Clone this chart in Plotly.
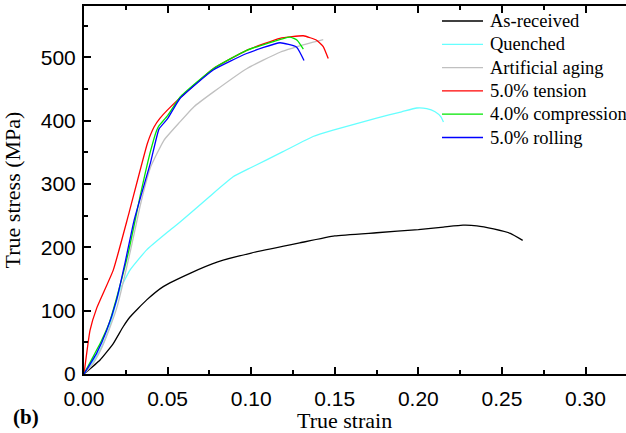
import plotly.graph_objects as go

# ---- data ----
series_names = ["As-received", "Quenched", "Artificial aging",
                "5.0% tension", "4.0% compression", "5.0% rolling"]

as_received_strain = [0, 0.0096, 0.0175, 0.0235, 0.0275, 0.0375, 0.0474, 0.0634, 0.08, 0.10,
                      0.129, 0.15, 0.175, 0.20, 0.215, 0.2267, 0.235, 0.245, 0.255, 0.2624]
as_received_stress = [0, 22, 48, 75, 90, 117, 138, 159, 177, 191,
                      207, 218, 223, 228, 232, 235, 234, 229, 222, 211]

quenched_strain = [0, 0.005, 0.01, 0.015, 0.0215, 0.0275, 0.0375, 0.05, 0.058, 0.075, 0.089,
                   0.10, 0.119, 0.137, 0.149, 0.175, 0.19, 0.199, 0.205, 0.21, 0.2135, 0.215]
quenched_stress = [0, 18, 40, 72, 133, 164, 196, 224, 241, 280, 311,
                   326, 351, 375, 385, 404, 414, 420, 419, 414, 406, 398]

aging_strain = [0, 0.005, 0.01, 0.015, 0.02, 0.0279, 0.034, 0.0399, 0.0478, 0.0574, 0.0658,
                0.0773, 0.0973, 0.1172, 0.1371, 0.1431]
aging_stress = [0, 15, 38, 70, 108, 196, 270, 327, 369, 398, 422,
                445, 482, 508, 524, 528]

tension_strain = [0, 0.0036, 0.0076, 0.0175, 0.0265, 0.0379, 0.0419, 0.0455, 0.0558, 0.0773,
                  0.0973, 0.1172, 0.1312, 0.1391, 0.1431, 0.1461]
tension_stress = [0, 69, 104, 164, 250, 364, 390, 404, 432, 482,
                  511, 530, 534, 527, 517, 498]

compression_strain = [0, 0.005, 0.01, 0.015, 0.02, 0.0269, 0.0335, 0.0399, 0.0435, 0.0449, 0.05,
                      0.0574, 0.0773, 0.0973, 0.1232, 0.1275, 0.1312]
compression_stress = [0, 25, 50, 80, 125, 196, 280, 353, 385, 392, 408,
                      437, 482, 511, 532, 527, 513]

rolling_strain = [0, 0.0076, 0.0136, 0.0195, 0.0245, 0.030, 0.0399, 0.0449, 0.05,
                  0.0574, 0.0773, 0.0973, 0.1172, 0.1272, 0.1316]
rolling_stress = [0, 33, 69, 117, 175, 243, 335, 387, 403,
                  435, 480, 506, 523, 516, 495]

x_tick_vals = [0.00, 0.05, 0.10, 0.15, 0.20, 0.25, 0.30]
x_tick_text = ["0.00", "0.05", "0.10", "0.15", "0.20", "0.25", "0.30"]
y_tick_vals = [0, 100, 200, 300, 400, 500]

colors = ["#000000", "#66ffff", "#c0c0c0", "#ff0000", "#00e600", "#0000ff"]
xs = [as_received_strain, quenched_strain, aging_strain, tension_strain,
      compression_strain, rolling_strain]
ys = [as_received_stress, quenched_stress, aging_stress, tension_stress,
      compression_stress, rolling_stress]

W, H = 626, 433
ML, MR, MT, MB = 84, 0, 6, 59
PW, PH = W - ML - MR, H - MT - MB


def px_to_paper(px, py):
    return (px - ML) / PW, (H - MB - py) / PH


SANS = "Liberation Sans, Arial, sans-serif"
SERIF = "Liberation Serif, Times New Roman, serif"

fig = go.Figure()
for name, x, y, c in zip(series_names, xs, ys, colors):
    fig.add_trace(go.Scatter(x=x, y=y, mode="lines", name=name, showlegend=False,
                             line=dict(color=c, width=1.3, shape="spline", smoothing=0.4)))

# legend drawn as line samples + text, positioned in pixel space
shapes = []
annotations = []
row_y0, row_step = 21, 23.3
for i, (name, c) in enumerate(zip(series_names, colors)):
    yy = row_y0 + i * row_step
    x0, y0 = px_to_paper(442, yy)
    x1, _ = px_to_paper(483, yy)
    shapes.append(dict(type="line", xref="paper", yref="paper", x0=x0, x1=x1, y0=y0, y1=y0,
                       line=dict(color=c, width=1.3)))
    tx, _ = px_to_paper(488, yy)
    annotations.append(dict(text=name, xref="paper", yref="paper", x=tx, y=y0,
                            xanchor="left", yanchor="middle", showarrow=False,
                            font=dict(family=SERIF, size=18.5, color="black")))

ax, ay = px_to_paper(344, 420)
annotations.append(dict(text="True strain", xref="paper", yref="paper", x=ax, y=ay,
                        xanchor="center", yanchor="middle", showarrow=False,
                        font=dict(family=SERIF, size=22, color="black")))
bx, by = px_to_paper(11, 417)
annotations.append(dict(text="<b>(b)</b>", xref="paper", yref="paper", x=bx, y=by,
                        xanchor="left", yanchor="middle", showarrow=False,
                        font=dict(family=SERIF, size=21, color="black")))

fig.update_layout(
    width=W, height=H,
    margin=dict(l=ML, r=MR, t=MT, b=MB),
    paper_bgcolor="white", plot_bgcolor="white",
    showlegend=False,
    shapes=shapes,
    annotations=annotations,
    xaxis=dict(range=[0, 0.3242], tickvals=x_tick_vals, ticktext=x_tick_text,
               ticks="inside", ticklen=7, tickwidth=1.5, tickcolor="black",
               minor=dict(dtick=0.025, ticks="inside", ticklen=4, tickwidth=1.5, tickcolor="black"),
               showline=True, linewidth=2, linecolor="black", mirror="ticks",
               showgrid=False, zeroline=False, ticklabelstandoff=5, automargin=False,
               tickfont=dict(family=SANS, size=21, color="black")),
    yaxis=dict(range=[0, 581], tickvals=y_tick_vals,
               ticks="inside", ticklen=7, tickwidth=1.5, tickcolor="black",
               minor=dict(dtick=50, ticks="inside", ticklen=4, tickwidth=1.5, tickcolor="black"),
               showline=True, linewidth=2, linecolor="black", mirror=False,
               showgrid=False, zeroline=False, ticklabelstandoff=2, automargin=False,
               tickfont=dict(family=SANS, size=21, color="black"),
               title=dict(text="True stress (MPa)", standoff=16,
                          font=dict(family=SERIF, size=22, color="black"))),
)

fig.write_html("out.html", config={"displayModeBar": False},
               post_script="document.body.style.margin='0';")
